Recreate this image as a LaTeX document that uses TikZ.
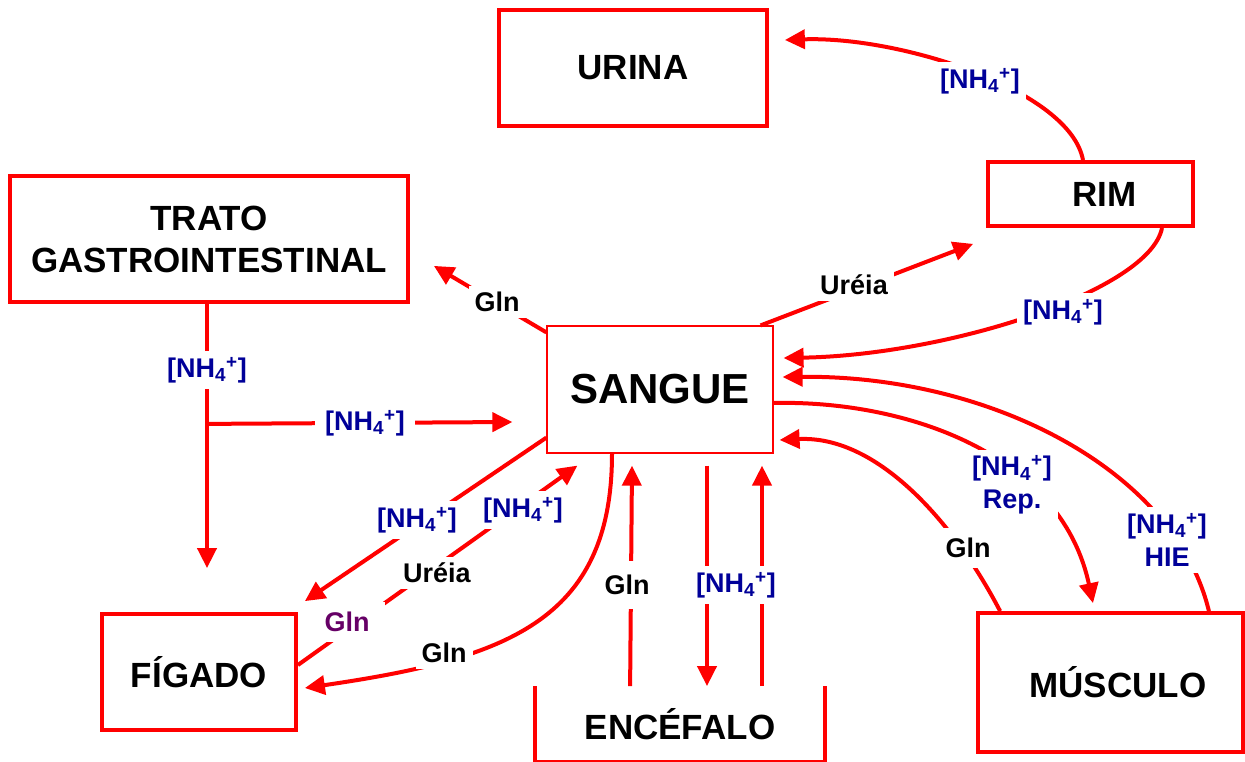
\documentclass[tikz,border=0pt]{standalone}
\usepackage{fontspec}
\setmainfont{Liberation Sans}
\usetikzlibrary{arrows.meta,calc}
\definecolor{flow}{RGB}{255,0,0}
\definecolor{ion}{RGB}{0,0,153}
\definecolor{amide}{RGB}{102,0,102}
\newcommand\amonio{[NH\textsubscript{4}\textsuperscript{+}]}

\begin{document}
\begin{tikzpicture}[x=1pt,y=-1pt,
  organ/.style={draw=flow, line width=3.8pt, inner sep=0pt, align=center,
    font=\fontsize{35}{42}\selectfont\bfseries},
  flux/.style={draw=flow, line width=4pt, -{Triangle[length=20pt,width=19pt]}},
  plain/.style={draw=flow, line width=4pt},
  tag/.style={fill=white, inner xsep=6pt, inner ysep=6pt, align=center,
    font=\fontsize{27}{33}\selectfont\bfseries},
  iontag/.style={tag, text=ion},
]
\useasboundingbox (0,0) rectangle (1245,762);

% organs
\node[organ, minimum width=268pt, minimum height=116pt] (urina) at (633,68) {URINA};
\node[organ, minimum width=205pt, minimum height=64pt] (rim) at (1090.5,194) {\hspace*{28pt}RIM};
\node[organ, minimum width=398pt, minimum height=126pt] (trato) at (209,239) {TRATO\\GASTROINTESTINAL};
\node[organ, line width=1.2pt, minimum width=226pt, minimum height=127pt,
  font=\fontsize{42}{50}\selectfont\bfseries] (sangue) at (660,389.5) {SANGUE};
\node[organ, minimum width=194pt, minimum height=116pt] (figado) at (199,672) {FÍGADO};
\node[organ, minimum width=265pt, minimum height=139pt] (musculo) at (1110.5,682.5) {\hspace*{15pt}MÚSCULO};
\node[organ, draw=none, minimum width=286pt, minimum height=72pt] (encefalo) at (680,724) {ENCÉFALO};
\draw[plain] (encefalo.north west) -- (encefalo.south west) -- (encefalo.south east) -- (encefalo.north east);

% kidney
\draw[flux] ($(rim.north)+(-7.5,0)$) .. controls (1070,90) and (900,36) .. ($(urina.east)+(16,-28)$);
\draw[flux] ($(rim.south)+(71.5,0)$) .. controls (1150,290) and (950,355) .. ($(sangue.east)+(10,-31.5)$);
\draw[flux] ($(sangue.north east)+(-13,0)$) -- ($(rim.south west)+(-13,16)$);

% gut and liver
\draw[flux] ($(sangue.north west)+(0,7)$) -- ($(trato.south east)+(24,-38)$);
\draw[flux] ($(trato.south)+(-2,0)$) -- ($(figado.north)+(8,-44)$);
\coordinate (split) at ($(trato.south)+(-2,120)$);
\draw[flux] (split) -- ($(sangue.west)+(-34,32.5)$);
\draw[flux] ($(sangue.south west)+(0,-16)$) -- ($(figado.north east)+(7,-11)$);
\draw[flux] ($(figado.east)+(0,-7)$) -- ($(sangue.south west)+(31,12)$);
\draw[flux] ($(sangue.south)+(-48,0)$) .. controls (612,623) and (503,659) .. ($(figado.east)+(7,16)$);

% brain
\draw[flux] ($(encefalo.north west)+(95,0)$) -- ($(sangue.south)+(-28,12)$);
\draw[flux] ($(sangue.south)+(47,12)$) -- ($(encefalo.north)+(27,0)$);
\draw[flux] ($(encefalo.north)+(82,0)$) -- ($(sangue.south)+(102,12)$);

% muscle
\draw[flux] ($(musculo.north west)+(24,0)$) .. controls (957,528) and (880,435) .. ($(sangue.east)+(6,50.5)$);
\draw[flux] ($(sangue.east)+(0,13.5)$) .. controls (900,400) and (1060,450) .. ($(musculo.north)+(-17.5,-8)$);
\draw[flux] ($(musculo.north east)+(-36,0)$) .. controls (1175,470) and (990,375) .. ($(sangue.east)+(9,-12.5)$);

% labels on the connectors
\node[iontag] (t1) at (980,81) {\amonio};
\node[iontag] (t2) at (1063,312) {\amonio};
\node[tag] (t3) at (854,285) {Uréia};
\node[tag] (t4) at (497,302) {Gln};
\node[iontag] (t5) at (207,370) {\amonio};
\node[iontag, inner xsep=10pt] (t6) at (365,423) {\amonio};
\node[iontag] (t7) at (417,520) {\amonio};
\node[iontag] (t8) at (523,510) {\amonio};
\node[tag] (t9) at (437,573) {Uréia};
\node[tag, text=amide, inner xsep=15pt, inner ysep=10pt] (t10) at (347,622) {Gln};
\node[tag] (t11) at (444,653) {Gln};
\node[tag, inner ysep=14pt] (t12) at (627,585) {Gln};
\node[iontag] (t13) at (736,585) {\amonio};
\node[tag, inner ysep=10pt] (t14) at (968,548) {Gln};
\node[iontag] (t15) at (1012,485) {\amonio\\Rep.};
\node[iontag] (t16) at (1167,540) {\amonio\\HIE};
\end{tikzpicture}
\end{document}
